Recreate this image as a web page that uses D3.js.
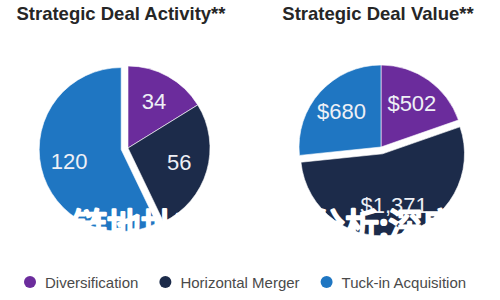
<!DOCTYPE html>
<html>
<head>
<meta charset="utf-8">
<script src="https://cdn.jsdelivr.net/npm/d3@7"></script>
<style>
  body { margin: 0; background: #fff; }
  svg { display: block; font-family: "Liberation Sans", Arial, sans-serif; }
</style>
</head>
<body>
<svg class="deals" width="500" height="300"></svg>
<script>
const categories = ["Diversification", "Horizontal Merger", "Tuck-in Acquisition"];
const dealCounts = [34, 56, 120];
const dealValues = [502, 1371, 680];
const chartTitles = ["Strategic Deal Activity**", "Strategic Deal Value**"];
const colors = ["#6b2c9c", "#1c2b4a", "#1f76c2"];
const overlayText = "区块链地址交易数据分析;深度";

const svg = d3.select("svg.deals");
const color = d3.scaleOrdinal().domain(categories).range(colors);
const radius = 82;

//* the two pies
const charts = [
	{ title: chartTitles[0], values: dealCounts, fmt: (d) => d, cx: 128, cy: 148, tx: 121, explode: 2 },
	{ title: chartTitles[1], values: dealValues, fmt: (d) => "$" + d3.format(",")(d), cx: 381, cy: 147, tx: 378, explode: 1 }
];

const pie = d3.pie().sort(null).value((d) => d.value);
const arc = d3.arc().innerRadius(0).outerRadius(radius);
const labelArc = d3.arc().innerRadius(radius * 0.65).outerRadius(radius * 0.65);

charts.forEach((c) => {
	svg.append("text")
		.attr("x", c.tx)
		.attr("y", 20)
		.attr("text-anchor", "middle")
		.attr("font-size", 18.5)
		.attr("font-weight", "bold")
		.attr("fill", "#262626")
		.text(c.title);

	const rows = categories.map((k, i) => ({ key: k, value: c.values[i] }));
	const g = svg.append("g").attr("transform", `translate(${c.cx}, ${c.cy})`);

	const slices = g.selectAll("g.slice")
		.data(pie(rows))
		.enter()
		.append("g")
		.attr("class", "slice")
		.attr("transform", (d, i) => {
			if (i !== c.explode) return null;
			const a = (d.startAngle + d.endAngle) / 2;
			return `translate(${Math.sin(a) * 7}, ${-Math.cos(a) * 7})`;
		});

	slices.append("path")
		.attr("d", arc)
		.attr("fill", (d) => color(d.data.key))
		.attr("stroke", "#fff")
		.attr("stroke-width", 0.6);

	slices.append("text")
		.attr("transform", (d) => `translate(${labelArc.centroid(d)})`)
		.attr("text-anchor", "middle")
		.attr("dominant-baseline", "central")
		.attr("font-size", 22)
		.attr("fill", "#eef0f6")
		.text((d) => c.fmt(d.data.value));
});

//* legend
const legend = svg.append("g").attr("transform", "translate(0, 282)");
let lx = 30;
categories.forEach((k) => {
	const item = legend.append("g").attr("transform", `translate(${lx}, 0)`);
	item.append("circle").attr("r", 6).attr("fill", color(k));
	const t = item.append("text")
		.attr("x", 15)
		.attr("dominant-baseline", "central")
		.attr("font-size", 15)
		.attr("fill", "#4a4a4a")
		.text(k);
	lx += 15 + t.node().getComputedTextLength() + 27;
});

//* white overlay text across the bottom of the pies
svg.append("text")
	.attr("x", 5)
	.attr("y", 238)
	.attr("font-family", "'Noto Sans CJK SC', sans-serif")
	.attr("font-size", 34)
	.attr("fill", "#fff")
	.attr("stroke", "#fff")
	.attr("stroke-width", 2.5)
	.attr("stroke-linejoin", "round")
	.attr("paint-order", "stroke")
	.text(overlayText);
</script>
</body>
</html>
